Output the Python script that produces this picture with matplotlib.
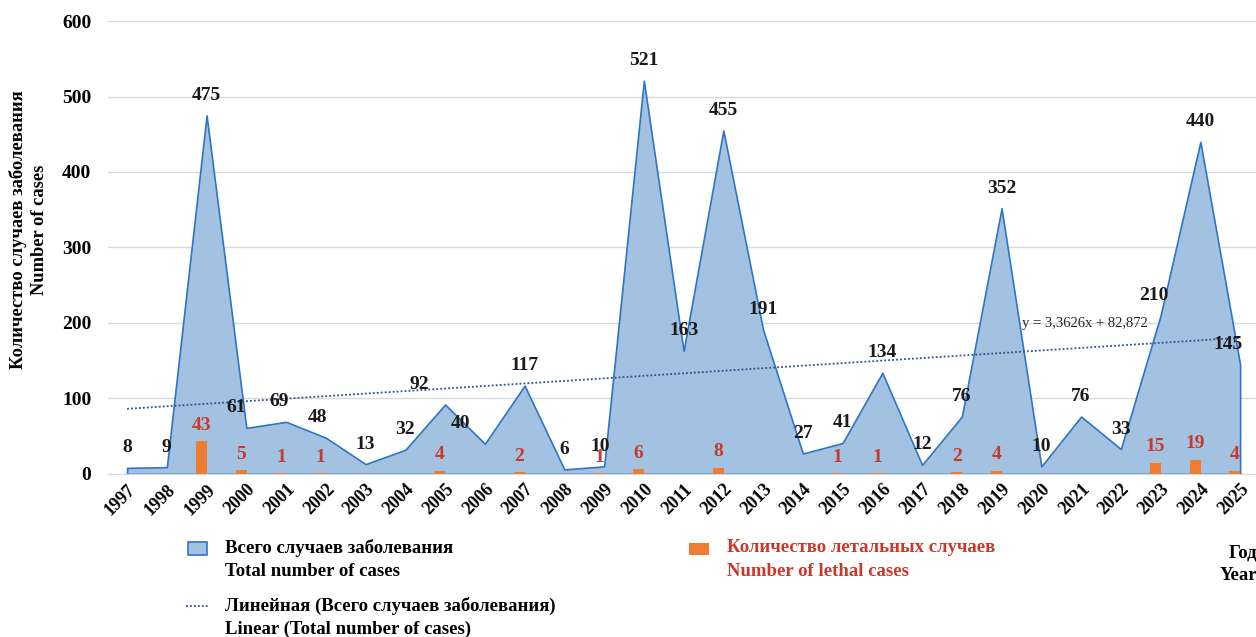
import matplotlib.pyplot as plt
import matplotlib.patches as mpatches
from matplotlib.lines import Line2D
import numpy as np

plt.rcParams['font.family'] = ['Liberation Serif', 'DejaVu Serif']
plt.rcParams['font.weight'] = 'bold'

years = list(range(1997, 2026))
total_cases = [8, 9, 475, 61, 69, 48, 13, 32, 92, 40, 117, 6, 10, 521, 163,
               455, 191, 27, 41, 134, 12, 76, 352, 10, 76, 33, 210, 440, 145]
lethal_cases = [0, 0, 43, 5, 1, 1, 0, 0, 4, 0, 2, 0, 1, 6, 0,
                8, 0, 0, 1, 1, 0, 2, 4, 0, 0, 0, 15, 19, 4]

# horizontal nudges (pixels) for some of the total labels
label_nudge = {2000: -10, 2001: -7, 2002: -8, 2005: -26, 2006: -24,
               2009: -4, 2023: -7, 2025: -12}

AREA_FILL = '#a3c1e1'
AREA_EDGE = '#2e75c6'
BAR_COLOR = '#ed7d31'
RED_TEXT = '#c8392b'
TREND_COLOR = '#2f4f8f'
LBL = 14

fig = plt.figure(figsize=(12.56, 6.37), dpi=100)
ax = fig.add_axes([0.086, 0.256, 0.914, 0.711])

x = np.arange(len(years))

# area
ax.fill_between(x, total_cases, 0, facecolor=AREA_FILL, edgecolor=AREA_EDGE,
                linewidth=1.2, zorder=2)

# lethal bars
ax.bar(x - 0.13, lethal_cases, width=0.28, color=BAR_COLOR, zorder=3)

# linear trend (Excel numbering x = 1..n)
k, b = np.polyfit(x + 1, total_cases, 1)
ax.plot(x, k * (x + 1) + b, linestyle=(0, (1, 1.2)), color=TREND_COLOR,
        linewidth=1.3, zorder=4)
eq = f'y = {k:.4f}x + {b:.3f}'.replace('.', ',')
ax.annotate(eq, xy=(25, k * 26 + b), xytext=(-99, 22), textcoords='offset pixels',
            fontsize=10.5, fontweight='normal', color='#262626', va='center', ha='left',
            zorder=6)

# labels for total cases
for xi, yr, v in zip(x, years, total_cases):
    ax.annotate(str(v), xy=(xi, v), xytext=(label_nudge.get(yr, 0), 20),
                textcoords='offset pixels', ha='center', va='center',
                fontsize=LBL, fontweight='bold', color='#1a1a1a', zorder=6)

# labels for lethal cases
for xi, v in zip(x, lethal_cases):
    if v > 0:
        ax.annotate(str(v), xy=(xi - 0.13, v), xytext=(0, 16),
                    textcoords='offset pixels', ha='center', va='center',
                    fontsize=LBL, fontweight='bold', color=RED_TEXT, zorder=6)

ax.set_ylim(0, 600)
ax.set_xlim(-0.48, 28.4)
ax.set_yticks(range(0, 601, 100))
ax.yaxis.grid(True, color='#d9d9d9', linewidth=1)
ax.set_axisbelow(True)
ax.set_xticks(x)
ax.set_xticklabels([str(y) for y in years], rotation=45, ha='right',
                   rotation_mode='anchor', fontsize=13, fontweight='bold')
ax.tick_params(axis='y', length=0, pad=12, labelsize=14)
ax.tick_params(axis='x', length=0, pad=5)
for side in ['top', 'right', 'left']:
    ax.spines[side].set_visible(False)
ax.spines['bottom'].set_color('#d9d9d9')
for lbl in ax.get_yticklabels():
    lbl.set_fontweight('bold')

# y-axis title
fig.text(0.023, 0.64, 'Количество случаев заболевания\nNumber of cases',
         rotation=90, ha='center', va='center', fontsize=13.3,
         fontweight='bold', linespacing=1.3)

# legend drawn by hand
W, H = 1256, 637
def fx(px):
    return px / W
def fy(py):
    return 1 - py / H

LEG = 13.5
fig.add_artist(mpatches.Rectangle((fx(188), fy(555)), fx(19), 13 / H,
                                  facecolor=AREA_FILL, edgecolor=AREA_EDGE, linewidth=1.2))
fig.text(fx(225), fy(548), 'Всего случаев заболевания', fontsize=LEG, va='center')
fig.text(fx(225), fy(571), 'Total number of cases', fontsize=LEG, va='center')

fig.add_artist(mpatches.Rectangle((fx(689), fy(555)), fx(20), 12 / H,
                                  facecolor=BAR_COLOR, edgecolor='none'))
fig.text(fx(727), fy(548), 'Количество летальных случаев', fontsize=LEG,
         va='center', color=RED_TEXT)
fig.text(fx(727), fy(571), 'Number of lethal cases', fontsize=LEG,
         va='center', color=RED_TEXT)

fig.add_artist(Line2D([fx(186), fx(208)], [fy(606), fy(606)], color=TREND_COLOR,
                      linestyle=(0, (1, 1.2)), linewidth=1.3))
fig.text(fx(225), fy(606), 'Линейная (Всего случаев заболевания)', fontsize=LEG, va='center')
fig.text(fx(225), fy(629), 'Linear (Total number of cases)', fontsize=LEG, va='center')

fig.text(fx(1229), fy(553), 'Год', fontsize=LEG, va='center')
fig.text(fx(1220), fy(575), 'Year', fontsize=LEG, va='center')

fig.savefig('out.png', dpi=100)
